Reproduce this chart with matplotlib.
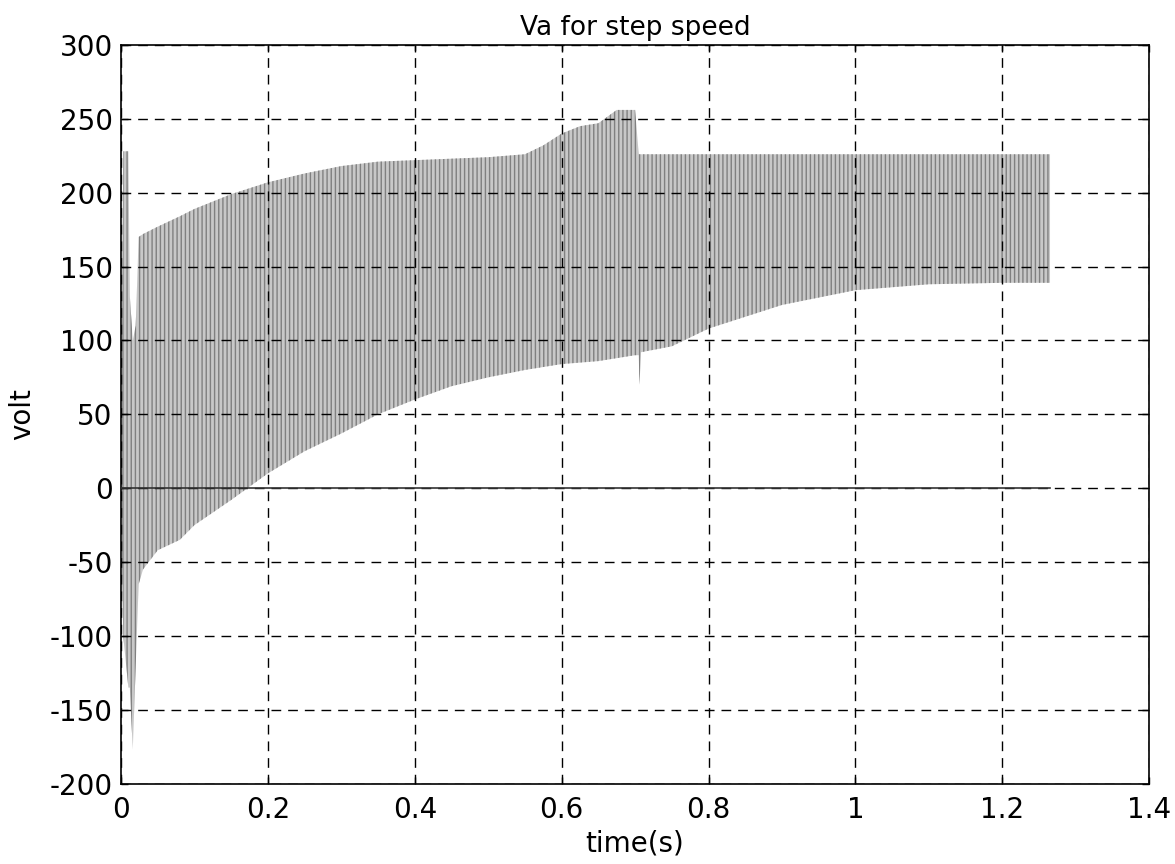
import matplotlib
matplotlib.use("Agg")
import matplotlib.pyplot as plt

# Envelope of the switching voltage Va (volt) versus time (s)
t = [0.000, 0.003, 0.010, 0.012, 0.016, 0.020, 0.024, 0.030, 0.050, 0.080,
     0.100, 0.150, 0.200, 0.250, 0.300, 0.350, 0.400, 0.450, 0.500, 0.550,
     0.575, 0.600, 0.625, 0.650, 0.675, 0.700, 0.705, 0.706, 0.708, 0.750,
     0.800, 0.900, 1.000, 1.100, 1.200, 1.265]
upper = [0, 228, 228, 130, 100, 110, 170, 172, 177, 184,
         189, 199, 207, 213, 218, 221, 222, 223, 224, 226,
         232, 240, 245, 247, 256, 256, 226, 226, 226, 226,
         226, 226, 226, 226, 226, 226]
lower = [0, -100, -135, -135, -177, -120, -65, -55, -42, -35,
         -25, -8, 10, 25, 37, 50, 60, 69, 75, 80,
         82, 84, 85, 86, 88, 90, 90, 70, 92, 96,
         108, 124, 134, 138, 139, 139]

zero_t = [0.0, 1.265]
zero_v = [0.0, 0.0]

title = "Va for step speed"
xlabel = "time(s)"
ylabel = "volt"
xticks = [0, 0.2, 0.4, 0.6, 0.8, 1.0, 1.2, 1.4]
xticklabels = ["0", "0.2", "0.4", "0.6", "0.8", "1", "1.2", "1.4"]
yticks = [-200, -150, -100, -50, 0, 50, 100, 150, 200, 250, 300]

plt.rcParams['font.family'] = ['DejaVu Sans']
plt.rcParams['axes.unicode_minus'] = False

fig = plt.figure(figsize=(11.75, 8.64), dpi=100)
ax = fig.add_axes([0.103, 0.093, 0.875, 0.855])

ax.fill_between(t, lower, upper, facecolor='#c8c8c8', edgecolor='#808080',
                hatch='||||', linewidth=0, zorder=2)
ax.plot(zero_t, zero_v, color='#333333', lw=1.2, zorder=3)

ax.set_xlim(0, 1.4)
ax.set_ylim(-200, 300)
ax.set_xticks(xticks)
ax.set_xticklabels(xticklabels)
ax.set_yticks(yticks)

ax.grid(True, color='black', linestyle=(0, (7, 5)), linewidth=1.0, zorder=4)
ax.set_axisbelow(False)
ax.tick_params(direction='in', length=5, top=True, right=True, labelsize=20,
               width=1)
ax.tick_params(axis='x', pad=9)
ax.tick_params(axis='y', pad=6)
for s in ax.spines.values():
    s.set_linewidth(1.2)

ax.set_title(title, fontsize=19, pad=7)
ax.set_xlabel(xlabel, fontsize=20, labelpad=4)
ax.set_ylabel(ylabel, fontsize=20, labelpad=10)

fig.savefig("out.png", dpi=100)
